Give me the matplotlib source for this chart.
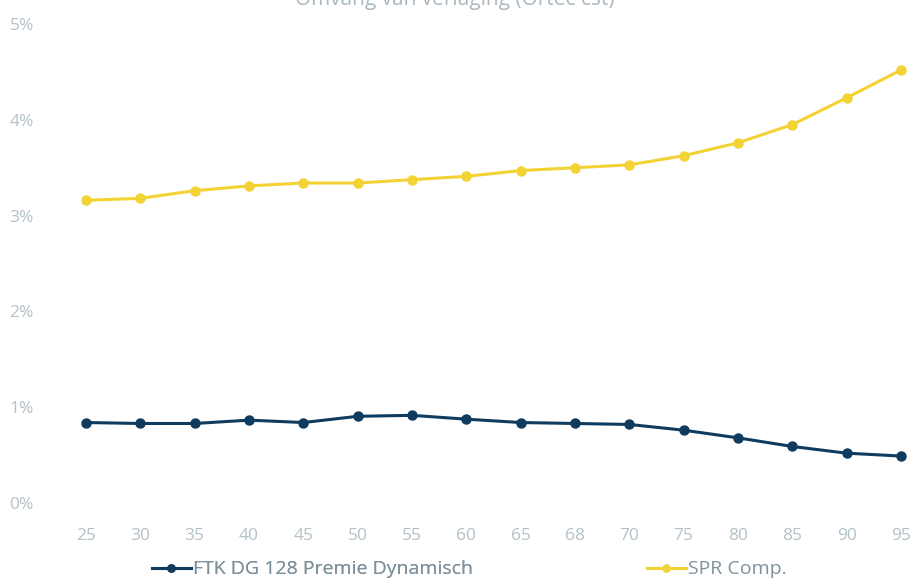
import matplotlib
matplotlib.use("Agg")
from matplotlib import pyplot as plt
from matplotlib.ticker import FuncFormatter

plt.rcParams['font.family'] = ['Open Sans', 'DejaVu Sans']

# leeftijden op de x-as
leeftijden = ['25', '30', '35', '40', '45', '50', '55', '60', '65', '68',
              '70', '75', '80', '85', '90', '95']
# verlaging in procenten
ftk = [0.84, 0.83, 0.83, 0.865, 0.84, 0.905, 0.915, 0.875, 0.84, 0.83,
       0.82, 0.76, 0.68, 0.59, 0.52, 0.49]
spr = [3.16, 3.18, 3.26, 3.31, 3.34, 3.34, 3.375, 3.41, 3.47, 3.50,
       3.53, 3.625, 3.76, 3.95, 4.23, 4.52]
y_ticks = [0, 1, 2, 3, 4, 5]

blauw = '#0f3b5f'
geel = '#f3d234'
tekst = '#b3c1c8'

fig = plt.figure(figsize=(9.19, 5.81), dpi=100)
ax = fig.add_axes([45 / 919, 78 / 581, 874 / 919, 479 / 581])

x = range(len(leeftijden))
l1, = ax.plot(x, ftk, color=blauw, lw=2.2, marker='o', ms=6.5,
              label='FTK DG 128 Premie Dynamisch')
l2, = ax.plot(x, spr, color=geel, lw=2.2, marker='o', ms=6.5,
              label='SPR Comp.')

ax.set_xlim(-0.755, 15.331)
ax.set_ylim(0, 5)
ax.set_xticks(list(x))
ax.set_xticklabels(leeftijden)
ax.set_yticks(y_ticks)
ax.yaxis.set_major_formatter(FuncFormatter(lambda v, p: f'{v:.0f}%'))
ax.tick_params(axis='both', length=0, colors=tekst, labelsize=12.5)
ax.tick_params(axis='x', pad=18)
ax.tick_params(axis='y', pad=8)
for s in ax.spines.values():
    s.set_visible(False)

# titel valt gedeeltelijk buiten beeld
fig.text(455 / 919, 1.0, 'Omvang van verlaging (Ortec cst)', ha='center',
         va='center', fontsize=15, color='#a9b8c0')

# twee losse legenda-items onder de grafiek
opts = dict(loc='center left', frameon=False, fontsize=14,
            handlelength=2.0, handletextpad=0.12, borderpad=0,
            borderaxespad=0, labelcolor='#7f919b', markerscale=0.8)
leg1 = fig.legend(handles=[l1], bbox_to_anchor=(152 / 919, 0.02), **opts)
fig.add_artist(leg1)
fig.legend(handles=[l2], bbox_to_anchor=(647 / 919, 0.02), **opts)

fig.savefig('out.png', dpi=100)
